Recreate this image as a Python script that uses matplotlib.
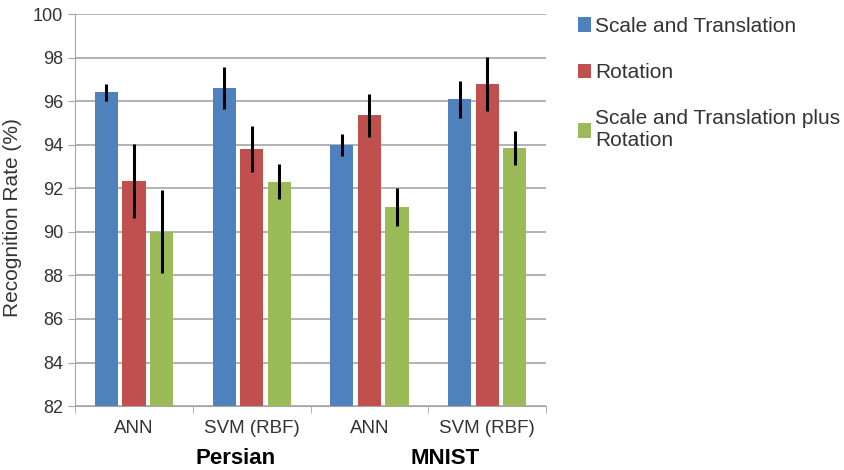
import matplotlib.pyplot as plt
import numpy as np
from matplotlib.patches import Patch

plt.rcParams['font.family'] = ['Liberation Sans', 'DejaVu Sans']

classifiers = ["ANN", "SVM (RBF)", "ANN", "SVM (RBF)"]
datasets = ["Persian", "MNIST"]
dataset_pos = [0.86, 2.64]
series_names = ["Scale and Translation", "Rotation", "Scale and Translation plus\nRotation"]

scale_trans = [96.4, 96.6, 94.0, 96.1]
scale_trans_err = [0.4, 0.95, 0.5, 0.85]
rotation = [92.35, 93.8, 95.35, 96.8]
rotation_err = [1.7, 1.05, 1.0, 1.25]
combined = [90.0, 92.3, 91.15, 93.85]
combined_err = [1.9, 0.8, 0.87, 0.8]

colors = ["#4F81BD", "#C0504D", "#9BBB59"]

fig = plt.figure(figsize=(8.44, 4.70), dpi=100)
ax = fig.add_axes([0.089, 0.136, 0.558, 0.834])

x = np.arange(len(classifiers))
step = 0.234
width = 0.196
values = [scale_trans, rotation, combined]
errors = [scale_trans_err, rotation_err, combined_err]
for i in range(3):
    ax.bar(x + (i - 1) * step, values[i], width, color=colors[i], zorder=2,
           yerr=errors[i], error_kw=dict(ecolor="black", elinewidth=2.2, capsize=0, zorder=3))

ax.set_ylim(82, 100)
ax.set_xlim(-0.5, 3.5)
ax.set_yticks(np.arange(82, 101, 2))
ax.yaxis.grid(True, color="#A6A6A6", linewidth=1.2, zorder=0)
ax.set_axisbelow(True)

ax.set_xticks(x)
ax.set_xticklabels(classifiers)
ax.set_xticks(np.arange(-0.5, 3.6, 1), minor=True)
ax.tick_params(axis="x", which="major", length=0, pad=10, labelsize=13.5, colors="#333333")
ax.tick_params(axis="x", which="minor", length=5, color="#A6A6A6", direction="out")
ax.tick_params(axis="y", length=5, color="#A6A6A6", labelsize=13, labelcolor="#333333")

for side in ["top", "right"]:
    ax.spines[side].set_visible(False)
ax.spines["left"].set_color("#A6A6A6")
ax.spines["bottom"].set_color("#A6A6A6")

ax.set_ylabel("Recognition Rate (%)", fontsize=15, color="#333333")
ax.yaxis.set_label_coords(-0.112, 0.48)

trans = ax.get_xaxis_transform()
for name, pos in zip(datasets, dataset_pos):
    ax.text(pos, -0.133, name, transform=trans, ha="center", va="center",
            fontsize=16, fontweight="bold")

handles = [Patch(facecolor=c, edgecolor="none") for c in colors]
fig.legend(handles, series_names, loc="upper left", bbox_to_anchor=(0.67, 0.99),
           frameon=False, fontsize=15, handlelength=0.62, handleheight=0.72,
           handletextpad=0.2, labelspacing=1.3, borderpad=0.1, labelcolor="#333333")

fig.savefig("out.png", dpi=100)
